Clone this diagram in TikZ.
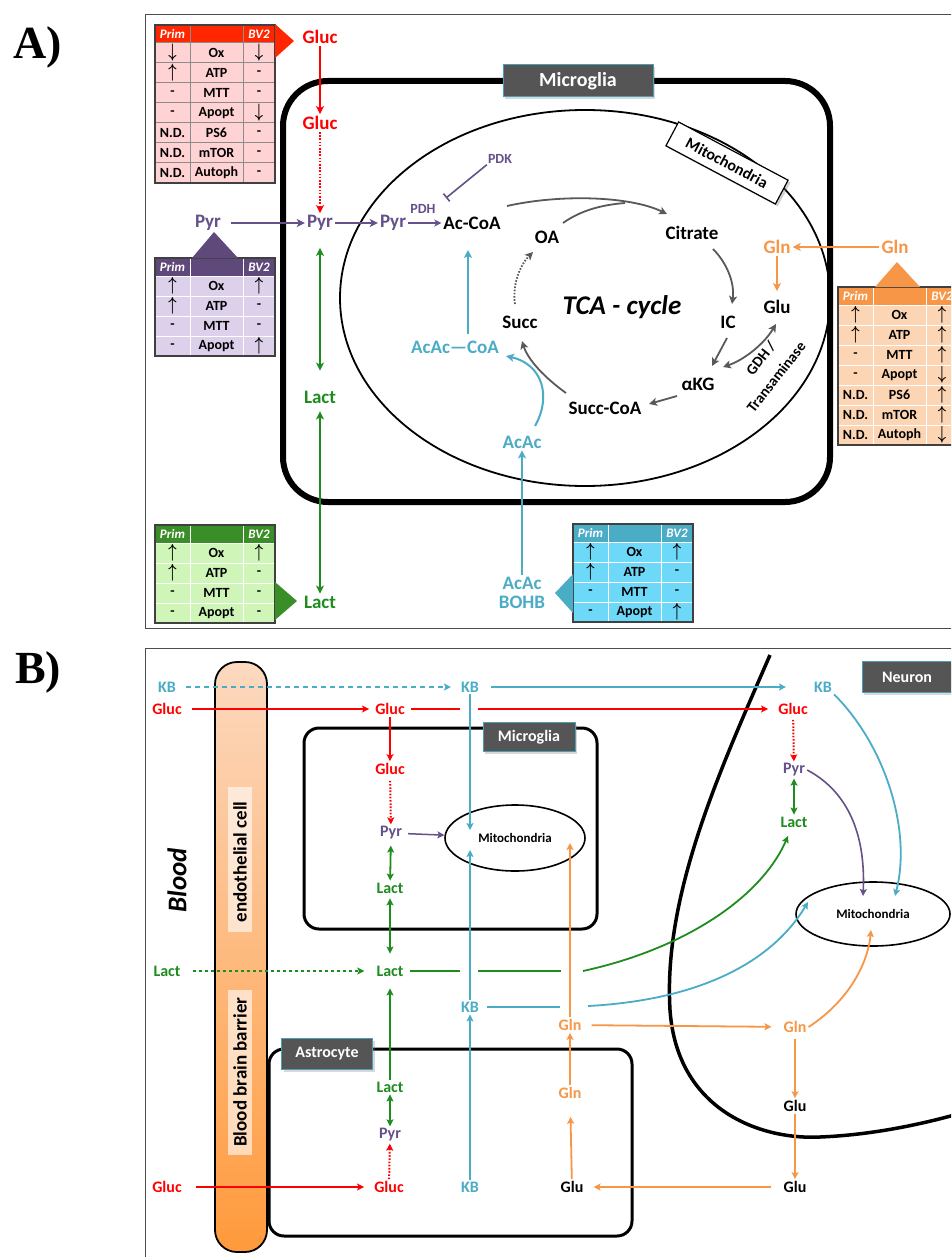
\documentclass[tikz,border=0pt]{standalone}
\usepackage{fontspec}
\setmainfont{Carlito}
\newfontfamily\timesf{Liberation Serif}
\usepackage{graphicx}
\usetikzlibrary{arrows.meta,shapes.geometric,shadows,calc}

\definecolor{cRed}{HTML}{FF0000}
\definecolor{cPur}{HTML}{65508A}
\definecolor{cGrn}{HTML}{1E8C1E}
\definecolor{cCya}{HTML}{4BACC6}
\definecolor{cOra}{HTML}{F79646}
\definecolor{cGry}{HTML}{595959}
\definecolor{labFill}{HTML}{555555}
\definecolor{labEdge}{HTML}{4A9FB5}
\definecolor{tabBorder}{HTML}{404040}
\definecolor{redH}{HTML}{FF2600}
\definecolor{redR}{HTML}{FFD3D3}
\definecolor{redG}{HTML}{8C8C8C}
\definecolor{purH}{HTML}{5F497A}
\definecolor{purR}{HTML}{DCD0EB}
\definecolor{purG}{HTML}{FFFFFF}
\definecolor{oraH}{HTML}{F79646}
\definecolor{oraR}{HTML}{FCD5B4}
\definecolor{oraG}{HTML}{FFFFFF}
\definecolor{grnH}{HTML}{3A8E27}
\definecolor{grnR}{HTML}{CFF5B8}
\definecolor{grnG}{HTML}{FFFFFF}
\definecolor{cyaH}{HTML}{4BACC6}
\definecolor{cyaR}{HTML}{6DD8F8}
\definecolor{cyaG}{HTML}{FFFFFF}
\definecolor{endoTop}{HTML}{FCD9C0}
\definecolor{endoBot}{HTML}{FF9A3C}

\newcommand\fs[1]{\fontsize{#1}{#1}\selectfont\bfseries}
\newcommand\U{\scalebox{1}[1.35]{\fontsize{15}{15}\selectfont\boldmath$\uparrow$}}
\newcommand\D{\scalebox{1}[1.35]{\fontsize{15}{15}\selectfont\boldmath$\downarrow$}}

\tikzset{
 tdtxt/.style={font=\fs{14}, inner sep=0pt, text=black},
 hdtxt/.style={font=\fs{13}\itshape, text=white, inner sep=0pt},
 la/.style={font=\fs{19}, inner sep=2pt},
 sm/.style={font=\fs{14}, inner sep=1pt},
 lb/.style={font=\fs{16}, inner sep=2pt},
 arA/.style={line width=2pt, -{Stealth[length=8pt,width=8pt,inset=2pt]}},
 dblA/.style={line width=2pt, {Stealth[length=8pt,width=8pt,inset=2pt]}-{Stealth[length=8pt,width=8pt,inset=2pt]}},
 arG/.style={line width=1.8pt, draw=cGry, -{Stealth[length=8pt,width=8pt,inset=2pt]}},
 dblG/.style={line width=1.8pt, draw=cGry, {Stealth[length=8pt,width=8pt,inset=2pt]}-{Stealth[length=8pt,width=8pt,inset=2pt]}},
 dotR/.style={dash pattern=on 1.6pt off 1.6pt},
 arB/.style={line width=1.8pt, -{Stealth[length=7pt,width=7pt,inset=1.5pt]}},
 lnB/.style={line width=1.8pt},
 dblB/.style={line width=1.8pt, {Stealth[length=7pt,width=7pt,inset=1.5pt]}-{Stealth[length=7pt,width=7pt,inset=1.5pt]}},
 cellLabel/.style={fill=labFill, draw=labEdge, line width=1pt, text=white, inner sep=0pt, drop shadow={opacity=0.3}},
}

\newcommand\mtab[4]{%
 \begin{scope}[shift={(#1,#2)}]
  \fill[#3H] (0,0) rectangle (120,18);
  \foreach \a/\b/\c [count=\i] in {#4}{%
    \fill[#3R] (0,{18+(\i-1)*20}) rectangle (120,{18+\i*20});
    \node[tdtxt] (#3a\i) at (17.5,{28+(\i-1)*20}) {\a};
    \node[tdtxt] (#3b\i) at (61.5,{28+(\i-1)*20}) {\b};
    \node[tdtxt] (#3c\i) at (104,{28+(\i-1)*20}) {\c};
    \xdef\lastrow{\i}}
  \foreach \i in {0,...,\lastrow}{\draw[#3G,line width=1pt] (0,{18+\i*20}) -- (120,{18+\i*20});}
  \draw[#3G,line width=1pt] (35,0) -- (35,{18+\lastrow*20}) (88,0) -- (88,{18+\lastrow*20});
  \draw[tabBorder,line width=1.2pt] (0,0) rectangle (120,{18+\lastrow*20});
  \node[hdtxt] (#3p) at (17.5,9) {Prim};
  \node[hdtxt] (#3v) at (104,9) {BV2};
 \end{scope}}

\begin{document}
\begin{tikzpicture}[x=1pt,y=-1pt]
\useasboundingbox (0,0) rectangle (951,1257);
\fill[white] (0,0) rectangle (951,1257);
\clip (0,0) rectangle (951,1257);

% ================= PANEL A =================
\node[font=\timesf\bfseries\fontsize{46}{46}\selectfont] (labA) at (38,47) {A)};
\draw[black!70, line width=1pt] (145,15) rectangle (975,628);

\draw[line width=6pt, rounded corners=45pt] (283,81) rectangle (830,502);
\draw[line width=1.8pt] (585,298) ellipse [x radius=245, y radius=188];

\node[cellLabel, font=\fs{20}, minimum width=150pt, minimum height=32pt] (micA) at (578,81) {Microglia};
\node[draw=black, fill=white, line width=1.2pt, rotate=-28, font=\fs{16}, minimum width=124pt, minimum height=27pt, inner sep=0pt, drop shadow={opacity=0.35}] (mitA) at (727,163) {Mitochondria};

% tables
\mtab{155}{25}{red}{\D/Ox/\D, \U/ATP/-, -/MTT/-, -/Apopt/\D, N.D./PS6/-, N.D./mTOR/-, N.D./Autoph/-}
\fill[redH] (275,24) -- (294,41) -- (275,58) -- cycle;
\mtab{155}{258}{pur}{\U/Ox/\U, \U/ATP/-, -/MTT/-, -/Apopt/\U}
\fill[purH] (192,258) -- (214,232) -- (238,258) -- cycle;
\mtab{838}{287}{ora}{\U/Ox/\U, \U/ATP/\U, -/MTT/\U, -/Apopt/\D, N.D./PS6/\U, N.D./mTOR/\U, N.D./Autoph/\D}
\fill[oraH] (875,287) -- (897,262) -- (920,287) -- cycle;
\mtab{155}{525}{grn}{\U/Ox/\U, \U/ATP/-, -/MTT/-, -/Apopt/-}
\fill[grnH] (275,582) -- (297,601) -- (275,620) -- cycle;
\mtab{573}{524}{cya}{\U/Ox/\U, \U/ATP/-, -/MTT/-, -/Apopt/\U}
\fill[cyaH] (573,574) -- (555,593) -- (573,613) -- cycle;

% labels A
\node[la,text=cRed] (gA0) at (320,37) {Gluc};
\node[la,text=cRed] (gA1) at (320,123) {Gluc};
\node[la,text=cPur] (pA0) at (208,223) {Pyr};
\node[la,text=cPur] (pA1) at (320,223) {Pyr};
\node[la,text=cPur] (pA2) at (393,223) {Pyr};
\node[sm,text=cPur] (pdh) at (423,209) {PDH};
\node[sm,text=cPur] (pdk) at (500,159) {PDK};
\node[la] (acoa) at (472,223) {Ac-CoA};
\node[la] (oa) at (547,237) {OA};
\node[la] (cit) at (692,233) {Citrate};
\node[la] (ic) at (728,322) {IC};
\node[la] (glu) at (777,307) {Glu};
\node[la,text=cOra] (glnA1) at (777,247) {Gln};
\node[la,text=cOra] (glnA0) at (895,247) {Gln};
\node[la] (akg) at (698,384) {αKG};
\node[la] (scoa) at (605,408) {Succ-CoA};
\node[la] (succ) at (520,322) {Succ};
\node[font=\fs{27}\itshape] (tca) at (622,307) {TCA - cycle};
\node[la,text=cCya] (aacoa) at (455,347) {AcAc—CoA};
\node[la,text=cCya] (aac) at (522,442) {AcAc};
\node[la,text=cCya,align=center] (bohb) at (522,593) {AcAc\\BOHB};
\node[la,text=cGrn] (lA1) at (320,397) {Lact};
\node[la,text=cGrn] (lA0) at (320,602) {Lact};
\node[font=\fs{15},rotate=52,inner sep=0pt] (gdh1) at (761,358) {GDH /};
\node[font=\fs{15},rotate=52,inner sep=0pt] (gdh2) at (776,377) {Transaminase};

% arrows A
\draw[arA,cRed] (gA0) -- (gA1);
\draw[arA,cRed,dotR,line width=2.2pt] (gA1) -- (pA1);
\draw[arA,cPur,shorten <=8pt] (pA0) -- (pA1);
\draw[arA,cPur] (pA1) -- (pA2);
\draw[line width=1.8pt,cPur,-{Stealth[length=7pt,width=7pt,inset=2pt]}] (pA2) -- (acoa);
\coordinate (pdhbar) at (446,198);
\draw[cPur,line width=1.6pt,-{Bar[width=10pt]}] (pdk.south west) -- (pdhbar);
\draw[dblA,cGrn,shorten <=15pt,shorten >=18pt] (pA1) -- (lA1);
\draw[dblA,cGrn,shorten <=6pt] (lA1) -- (lA0);
\draw[arA,cOra] (glnA0) -- (glnA1);
\draw[arA,cOra,shorten >=7pt] (glnA1) -- (glu);
\draw[arA,cCya] (bohb) -- (aac);
\coordinate (ccA) at (468,334);
\coordinate (ccB) at (468,250);
\draw[arA,cCya] (ccA) -- (ccB);
\coordinate (ch1) at (535,426);
\coordinate (ch2) at (506,356);
\draw[arA,cCya] (ch1) .. controls (552,396) and (542,364) .. (ch2);

% TCA cycle
\coordinate (ca1) at (507,206);
\coordinate (ca2) at (667,214);
\draw[arG] (ca1) .. controls (560,194) and (630,196) .. (ca2);
\coordinate (cz1) at (563,223);
\coordinate (cz2) at (625,203);
\draw[line width=1.8pt,cGry] (cz1) .. controls (580,211) and (600,205) .. (cz2);
\coordinate (cb1) at (713,249);
\coordinate (cb2) at (732,304);
\draw[arG] (cb1) .. controls (726,262) and (735,282) .. (cb2);
\coordinate (cc1) at (727,338);
\coordinate (cc2) at (712,366);
\draw[arG] (cc1) -- (cc2);
\coordinate (cd1) at (723,367);
\coordinate (cd2) at (776,324);
\draw[dblG] (cd1) .. controls (744,360) and (764,344) .. (cd2);
\coordinate (ce1) at (677,396);
\coordinate (ce2) at (649,404);
\draw[arG] (ce1) -- (ce2);
\coordinate (cf1) at (566,393);
\coordinate (cf2) at (522,341);
\draw[arG] (cf1) .. controls (545,378) and (528,360) .. (cf2);
\coordinate (cg1) at (515,304);
\coordinate (cg2) at (533,252);
\draw[arG,dotR] (cg1) .. controls (512,285) and (520,265) .. (cg2);

% ================= PANEL B =================
\node[font=\timesf\bfseries\fontsize{46}{46}\selectfont] (labB) at (38,672) {B)};
\draw[black!70, line width=1pt] (145,648) rectangle (975,1290);

% endothelial cell
\shade[top color=endoTop, bottom color=endoBot] [rounded corners=22pt] (215,662) rectangle (267,1252);
\draw[line width=1.8pt, rounded corners=22pt] (215,662) rectangle (267,1252);
\fill[white, opacity=0.6] (228,787) rectangle (252,932);
\fill[white, opacity=0.6] (228,990) rectangle (252,1155);
\node[rotate=90, font=\fs{19}] (endo) at (240,862) {endothelial cell};
\node[rotate=90, font=\fs{19}] (bbb) at (240,1072) {Blood brain barrier};
\node[rotate=90, font=\fs{27}\itshape] (blood) at (177,880) {Blood};

% cells
\draw[line width=3pt, rounded corners=15pt] (304,728) rectangle (597,929);
\draw[line width=3pt, rounded corners=15pt] (269,1049) rectangle (632,1236);
\draw[line width=3.5pt] (770,655) .. controls (720,770) and (663,895) .. (670,1010)
  .. controls (677,1110) and (760,1140) .. (820,1137)
  .. controls (870,1135) and (920,1125) .. (965,1112);

\node[cellLabel, font=\fs{16}, minimum width=92pt, minimum height=29pt] (micB) at (529,737) {Microglia};
\node[cellLabel, font=\fs{16}, minimum width=91pt, minimum height=31pt] (astB) at (327,1054) {Astrocyte};
\node[cellLabel, font=\fs{16}, minimum width=90pt, minimum height=31pt] (neuB) at (907,677) {Neuron};

\node[draw, ellipse, line width=1.6pt, minimum width=140pt, minimum height=66pt, inner sep=0pt, font=\fs{13}] (mitoM) at (515,838) {Mitochondria};
\node[draw, ellipse, line width=1.6pt, minimum width=154pt, minimum height=64pt, inner sep=0pt, font=\fs{13}] (mitoN) at (873,914) {Mitochondria};

% labels B
\node[lb,text=cCya] (kbL) at (167,687) {KB};
\node[lb,text=cCya] (kbT) at (470,687) {KB};
\node[lb,text=cCya] (kbN) at (823,687) {KB};
\node[lb,text=cRed] (gL) at (167,709) {Gluc};
\node[lb,text=cRed] (gT) at (390,709) {Gluc};
\node[lb,text=cRed] (gN) at (793,709) {Gluc};
\node[lb,text=cRed] (gM) at (390,769) {Gluc};
\node[lb,text=cPur] (pM) at (391,833) {Pyr};
\node[lb,text=cGrn] (lM) at (390,888) {Lact};
\node[lb,text=cGrn] (lL) at (167,971) {Lact};
\node[lb,text=cGrn] (lC) at (390,971) {Lact};
\node[lb,text=cCya] (kbC) at (470,1007) {KB};
\node[lb,text=cOra] (glnC) at (570,1025) {Gln};
\node[lb,text=cOra] (glnN) at (795,1027) {Gln};
\node[lb,text=cPur] (pN) at (794,770) {Pyr};
\node[lb,text=cGrn] (lN) at (794,822) {Lact};
\node[lb] (gluN) at (795,1106) {Glu};
\node[lb] (gluN2) at (795,1187) {Glu};
\node[lb] (gluA) at (572,1187) {Glu};
\node[lb,text=cOra] (glnA) at (570,1093) {Gln};
\node[lb,text=cGrn] (lA) at (390,1087) {Lact};
\node[lb,text=cPur] (pAs) at (390,1135) {Pyr};
\node[lb,text=cRed] (gA) at (389,1187) {Gluc};
\node[lb,text=cRed] (gLb) at (167,1187) {Gluc};
\node[lb,text=cCya] (kbA) at (470,1187) {KB};

% coordinates for gaps
\coordinate (gx1) at (460,709);
\coordinate (gx2) at (478,709);
\coordinate (kbTe) at (470,830);
\coordinate (kbCe) at (470,850);
\coordinate (glnCe) at (570,843);
\coordinate (lx1) at (460,971);
\coordinate (lx2) at (478,971);
\coordinate (lx3) at (561,971);
\coordinate (lx4) at (583,971);
\coordinate (lNe) at (788,836);
\coordinate (kx1) at (560,1007);
\coordinate (kx2) at (588,1006);
\coordinate (mNc) at (808,902);
\coordinate (mNo) at (871,930);
\coordinate (mNp) at (863,896);
\coordinate (mNk) at (895,896);

% arrows B (blood side)
\draw[arB,cCya,dash pattern=on 5pt off 4pt,shorten <=8pt,shorten >=8pt] (kbL) -- (kbT);
\draw[arB,cCya,shorten <=10pt,shorten >=26pt] (kbT) -- (kbN);
\draw[arB,cRed,shorten <=8pt,shorten >=4pt] (gL) -- (gT);
\draw[lnB,cRed,shorten <=4pt] (gT) -- (gx1);
\draw[arB,cRed,shorten >=8pt] (gx2) -- (gN);
\draw[arB,cCya] (kbT) -- (kbTe);

% microglia
\draw[arB,cRed] (gT) -- (gM);
\draw[arB,cRed,dotR,line width=2pt,shorten <=4pt] (gM) -- (pM);
\draw[line width=1.5pt,cPur,-{Stealth[length=7pt,width=7pt,inset=1.5pt]},shorten <=4pt] (pM) -- (mitoM);
\draw[dblB,cGrn,shorten <=4pt] (pM) -- (lM);
\draw[dblB,cGrn,shorten <=3pt,shorten >=10pt] (lM) -- (lC);
\draw[arB,cGrn,dash pattern=on 3pt off 3pt,shorten <=10pt,shorten >=10pt] (lL) -- (lC);
\draw[lnB,cGrn,shorten <=4pt] (lC) -- (lx1);
\draw[lnB,cGrn] (lx2) -- (lx3);
\draw[arB,cGrn] (lx4) .. controls (680,950) and (760,900) .. (lNe);

% astrocyte
\draw[arB,cGrn,shorten >=10pt] (lA) -- (lC);
\draw[dblB,cGrn] (lA) -- (pAs);
\draw[arB,cRed,dotR,line width=2pt] (gA) -- (pAs);
\draw[arB,cRed,shorten <=12pt,shorten >=8pt] (gLb) -- (gA);
\draw[arB,cCya] (kbA) -- (kbC);
\draw[arB,cCya] (kbC) -- (kbCe);
\draw[lnB,cCya,shorten <=6pt] (kbC) -- (kx1);
\draw[arB,cCya] (kx2) .. controls (700,1000) and (772,962) .. (mNc);
\draw[arB,cOra,shorten >=16pt] (gluA) -- (glnA);
\draw[arB,cOra] (glnA) -- (glnC);
\draw[arB,cOra] (glnC) -- (glnCe);
\draw[arB,cOra,shorten <=8pt,shorten >=10pt] (glnC) -- (glnN);

% neuron
\draw[arB,cOra,shorten <=4pt] (glnN) -- (gluN);
\draw[arB,cOra] (gluN) -- (gluN2);
\draw[arB,cOra,shorten <=10pt,shorten >=8pt] (gluN2) -- (gluA);
\draw[arB,cOra] (glnN.east) .. controls (850,1000) and (868,962) .. (mNo);
\draw[arB,cRed,dotR,line width=2pt,shorten <=3pt] (gN) -- (pN);
\draw[dblB,cGrn] (pN) -- (lN);
\draw[line width=1.6pt,cPur,-{Stealth[length=7pt,width=7pt,inset=1.5pt]}] (pN.east) .. controls (845,790) and (866,830) .. (mNp);
\draw[arB,cCya] (kbN.south east) .. controls (885,745) and (912,830) .. (mNk);

\end{tikzpicture}
\end{document}
